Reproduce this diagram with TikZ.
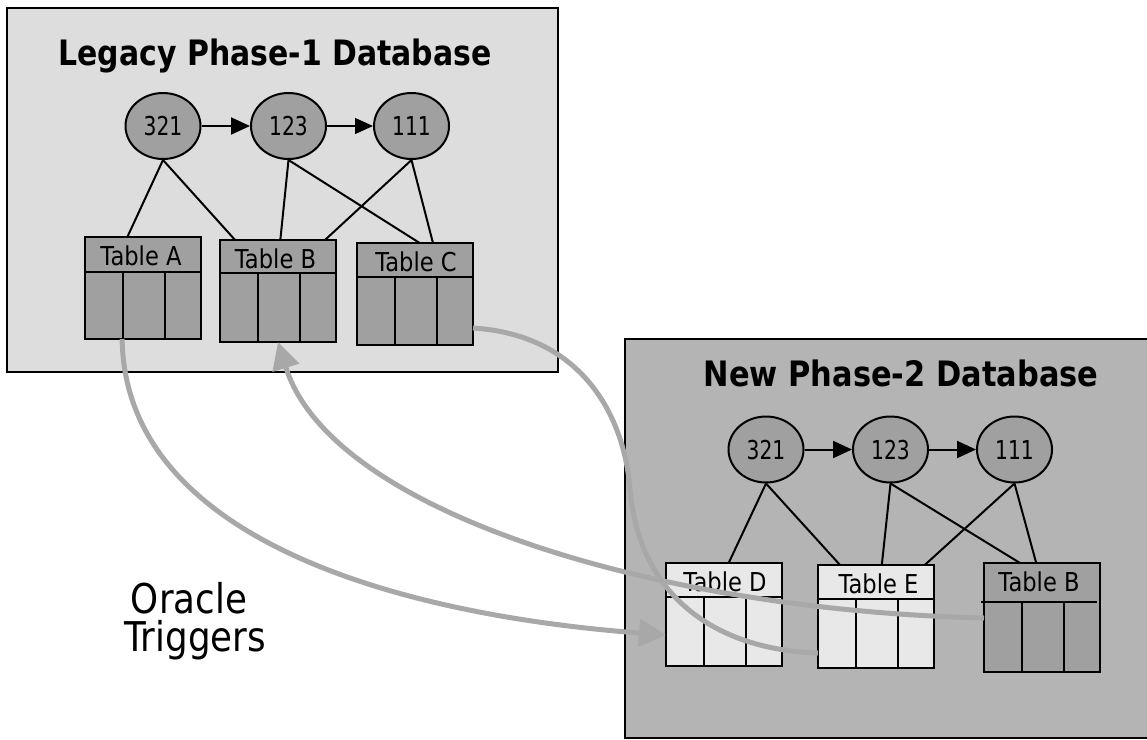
\documentclass[tikz,border=0pt]{standalone}
\usepackage{fontspec}
\setmainfont{DejaVu Sans}
\usetikzlibrary{shapes.geometric,arrows.meta,calc}
\definecolor{bgA}{RGB}{221,221,221}
\definecolor{bgB}{RGB}{180,180,180}
\definecolor{darkfill}{RGB}{160,160,160}
\definecolor{lightfill}{RGB}{232,232,232}
\definecolor{curvegray}{RGB}{168,168,168}

\newcommand\dbtable[9]{% name, x, y, fill, label, header, height, label x offset, header line shift
  \node[tbl,fill=#4,minimum height=#7pt] (#1) at (#2,#3) {};
  \draw[tolink] ($(#1.north west)+(#9,#6)$) -- ($(#1.north east)+(#9,#6)$);
  \draw[tolink] ($(#1.north west)+(38,#6)$) -- ($(#1.south west)+(38,0)$);
  \draw[tolink] ($(#1.north west)+(80,#6)$) -- ($(#1.south west)+(80,0)$);
  \node[tlabel] (#1-lab) at ($(#1.north)+(#8,28.5)$) {\scalebox{0.87}[1]{#5}};
}

\begin{document}
\begin{tikzpicture}[x=1pt,y=-1pt,
  dbbox/.style={draw=black,line width=1.6pt,inner sep=0pt,outer sep=0pt,anchor=north west},
  seq/.style={ellipse,draw=black,line width=2pt,fill=darkfill,minimum width=75pt,minimum height=66pt,inner sep=0pt,font=\fontsize{26}{26}\selectfont,text height=19pt,text depth=0pt},
  tbl/.style={draw=black,line width=2pt,minimum width=116pt,inner sep=0pt,outer sep=0pt,anchor=north west},
  tolink/.style={draw=black,line width=2pt},
  nextarrow/.style={draw=black,line width=2pt,-{Triangle[length=19pt,width=17pt]}},
  thinarrow/.style={draw=black,line width=1.2pt,-{Triangle[length=18pt,width=16pt]}},
  sync/.style={draw=curvegray,line width=5pt},
  syncarrow/.style={sync,-{Triangle[length=27pt,width=27pt]}},
  tlabel/.style={anchor=base,inner sep=0pt,font=\fontsize{26}{26}\selectfont},
  dbtitle/.style={anchor=base,inner sep=0pt,font=\bfseries\fontsize{35}{40}\selectfont},
  bigtext/.style={anchor=base,inner sep=0pt,font=\fontsize{41}{41}\selectfont},
]
\useasboundingbox[fill=white] (0,0) rectangle (1147,739);

% containers
\node[dbbox,fill=bgA,minimum width=551pt,minimum height=364pt] (legacy) at (7,8) {};
\node[dbbox,fill=bgB,minimum width=524pt,minimum height=399pt] (newdb) at (625,339) {};

\node[dbtitle] (legacytitle) at (275,65) {\scalebox{0.855}[1]{Legacy Phase-1 Database}};
\node[dbtitle] (newtitle) at (901,386) {\scalebox{0.87}[1]{New Phase-2 Database}};

% sequences, legacy
\node[seq] (l321) at (163,126) {\scalebox{0.78}[1]{321}};
\node[seq] (l123) at (288.5,126) {\scalebox{0.78}[1]{123}};
\node[seq] (l111) at (411.5,126) {\scalebox{0.78}[1]{111}};
\draw[nextarrow] (l321) -- (l123);
\draw[thinarrow] (l123) -- (l111);

% sequences, new
\node[seq] (n321) at (766,449.5) {\scalebox{0.78}[1]{321}};
\node[seq] (n123) at (890.5,449.5) {\scalebox{0.78}[1]{123}};
\node[seq] (n111) at (1014.5,449.5) {\scalebox{0.78}[1]{111}};
\draw[nextarrow] (n321) -- (n123);
\draw[nextarrow] (n123) -- (n111);

% tables, legacy
\dbtable{tA}{85}{237}{darkfill}{Table A}{35}{102}{-2}{0}
\dbtable{tB}{220}{240}{darkfill}{Table B}{33}{102}{-2.5}{0}
\dbtable{tC}{357}{243}{darkfill}{Table C}{34}{102}{1}{0}

% tables, new
\dbtable{tD}{666}{563}{lightfill}{Table D}{34}{103}{1}{0}
\dbtable{tE}{818}{565}{lightfill}{Table E}{34}{103}{2.5}{0}
\dbtable{tB2}{984}{563}{darkfill}{Table B}{39}{109}{-3}{-3}

% links, legacy
\draw[tolink] (l321.south) -- ($(tA.north west)!0.365!(tA.north east)$);
\draw[tolink] (l321.south) -- ($(tB.north west)!0.13!(tB.north east)$);
\draw[tolink] (l123.south) -- ($(tB.north west)!0.52!(tB.north east)$);
\draw[tolink] (l123.south) -- ($(tC.north west)!0.54!(tC.north east)$);
\draw[tolink] (l111.south) -- ($(tB.north west)!0.905!(tB.north east)$);
\draw[tolink] (l111.south) -- ($(tC.north west)!0.655!(tC.north east)$);

% links, new
\draw[tolink] (n321.south) -- ($(tD.north west)!0.54!(tD.north east)$);
\draw[tolink] (n321.south) -- ($(tE.north west)!0.19!(tE.north east)$);
\draw[tolink] (n123.south) -- ($(tE.north west)!0.55!(tE.north east)$);
\draw[tolink] (n123.south) -- ($(tB2.north west)!0.31!(tB2.north east)$);
\draw[tolink] (n111.south) -- ($(tE.north west)!0.92!(tE.north east)$);
\draw[tolink] (n111.south) -- ($(tB2.north west)!0.45!(tB2.north east)$);

% trigger curves
\draw[syncarrow] ($(tA.south west)!0.32!(tA.south east)$)
  .. controls (125,540) and (400,615) .. ($(tD.north west)+(0,72)$);
\draw[syncarrow] ($(tB2.north west)+(0,55)$)
  .. controls (650,610) and (330,510) .. (tB.south);
\draw[sync] ($(tC.north east)+(0,85)$)
  .. controls (585,335) and (625,420) .. (630,490)
  .. controls (640,600) and (720,650) .. ($(tE.north west)+(0,88)$);

% label
\node[bigtext] (oracle) at (189,613) {\scalebox{0.87}[1]{Oracle}};
\node[bigtext] (triggers) at (195,651) {\scalebox{0.87}[1]{Triggers}};
\end{tikzpicture}
\end{document}
